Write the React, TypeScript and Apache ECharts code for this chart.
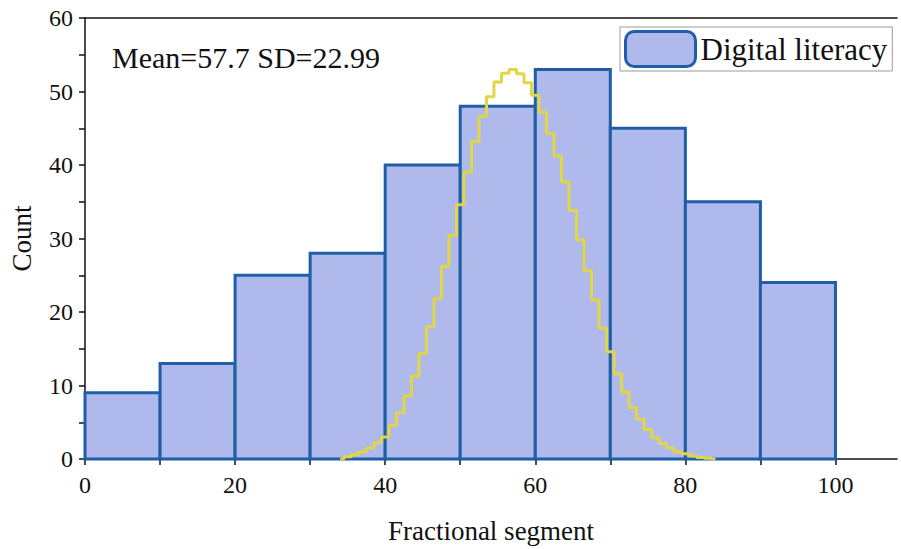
import React, { useEffect, useRef } from "react";
import * as echarts from "echarts";

const binStarts = [0, 10, 20, 30, 40, 50, 60, 70, 80, 90];
const binWidth = 10;
const counts = [9, 13, 25, 28, 40, 48, 53, 45, 35, 24];

const curveX = [
  34, 35, 36, 37, 38, 39, 40, 41, 42, 43, 44, 45, 46, 47, 48, 49, 50, 51, 52,
  53, 54, 55, 56, 57, 58, 59, 60, 61, 62, 63, 64, 65, 66, 67, 68, 69, 70, 71,
  72, 73, 74, 75, 76, 77, 78, 79, 80, 81, 82, 83, 84,
];
const curveY = [
  0, 0.3, 0.6, 1.0, 1.5, 2.2, 3.0, 4.6, 6.3, 8.6, 11.3, 14.4, 18.0, 21.8, 26.2,
  30.4, 34.6, 39.0, 43.2, 46.6, 49.3, 51.3, 52.5, 53.0, 52.4, 51.2, 49.5, 47.2,
  44.3, 41.2, 37.7, 33.8, 29.8, 25.6, 21.6, 17.8, 14.6, 11.6, 9.1, 7.0, 5.4,
  4.0, 2.9, 2.1, 1.5, 1.0, 0.7, 0.4, 0.2, 0.1, 0,
];

const xLabelValues = [0, 20, 40, 60, 80, 100];
const xTickValues = [0, 10, 20, 30, 40, 50, 60, 70, 80, 90, 100];
const statsText = "Mean=57.7 SD=22.99";
const seriesName = "Digital literacy";

const FONT = "'Liberation Serif', 'Times New Roman', serif";
const FILL = "#afb9eb";
const STROKE = "#1e5fa8";

export default function App() {
  const ref = useRef<HTMLDivElement>(null);
  useEffect(() => {
    if (!ref.current) return;
    const chart = echarts.init(ref.current, null, { renderer: "svg" });
    const histData = binStarts.map((s, i) => [s, s + binWidth, counts[i]]);
    const lineData = curveX.map((x, i) => [x, curveY[i]]);
    chart.setOption({
      animation: false,
      backgroundColor: "#ffffff",
      textStyle: { fontFamily: FONT },
      grid: { left: 83, right: 4, top: 18, bottom: 86 },
      legend: {
        left: 620,
        top: 27,
        padding: [3, 5, 3, 4],
        borderColor: "#9a9a9a",
        borderWidth: 1,
        itemWidth: 70,
        itemHeight: 35,
        textStyle: { fontFamily: FONT, fontSize: 31, color: "#111" },
        data: [
          {
            name: seriesName,
            icon: "roundRect",
            itemStyle: { color: FILL, borderColor: STROKE, borderWidth: 3 },
          },
        ],
      },
      xAxis: [
        {
          type: "value",
          min: 0,
          max: 108.2,
          position: "bottom",
          name: "Fractional segment",
          nameLocation: "middle",
          nameGap: 58,
          nameTextStyle: { fontFamily: FONT, fontSize: 27, color: "#111" },
          axisLine: { show: true, lineStyle: { color: "#111", width: 1.5 } },
          axisTick: {
            show: true,
            inside: false,
            length: 6,
            customValues: xTickValues,
            lineStyle: { color: "#111", width: 1.5 },
          },
          axisLabel: {
            customValues: xLabelValues,
            fontFamily: FONT,
            fontSize: 24,
            color: "#111",
            margin: 14,
          },
          splitLine: { show: false },
        },
        {
          type: "value",
          min: 0,
          max: 108.2,
          position: "top",
          axisLine: { show: true, lineStyle: { color: "#111", width: 1.5 } },
          axisTick: { show: false },
          axisLabel: { show: false },
          splitLine: { show: false },
        },
      ],
      yAxis: {
        type: "value",
        min: 0,
        max: 60,
        interval: 10,
        name: "Count",
        nameLocation: "middle",
        nameGap: 50,
        nameTextStyle: { fontFamily: FONT, fontSize: 27, color: "#111" },
        axisLine: { show: true, lineStyle: { color: "#111", width: 1.5 } },
        axisTick: { show: true, inside: false, length: 6, lineStyle: { color: "#111", width: 1.5 } },
        minorTick: { show: true, splitNumber: 2, length: 6, lineStyle: { color: "#111", width: 1.5 } },
        axisLabel: { fontFamily: FONT, fontSize: 24, color: "#111", margin: 12 },
        splitLine: { show: false },
      },
      graphic: [
        {
          type: "text",
          left: 112,
          top: 42,
          style: { text: statsText, fontFamily: FONT, fontSize: 30, fill: "#111" },
        },
      ],
      series: [
        {
          name: seriesName,
          type: "custom",
          xAxisIndex: 0,
          data: histData,
          itemStyle: { color: FILL, borderColor: STROKE, borderWidth: 3 },
          renderItem: (params: any, api: any) => {
            const x0 = api.value(0);
            const x1 = api.value(1);
            const c = api.value(2);
            const p0 = api.coord([x0, c]);
            const p1 = api.coord([x1, 0]);
            return {
              type: "rect",
              shape: { x: p0[0], y: p0[1], width: p1[0] - p0[0], height: p1[1] - p0[1] },
              style: { fill: FILL, stroke: STROKE, lineWidth: 3 },
            };
          },
          z: 2,
        },
        {
          name: "Normal",
          type: "line",
          xAxisIndex: 0,
          data: lineData,
          step: "middle",
          showSymbol: false,
          lineStyle: { color: "#e0d646", width: 3 },
          z: 3,
        },
      ],
    });
    return () => chart.dispose();
  }, []);
  return (
    <div
      ref={ref}
      style={{ position: "fixed", left: 0, top: 0, width: 901, height: 549 }}
    />
  );
}
